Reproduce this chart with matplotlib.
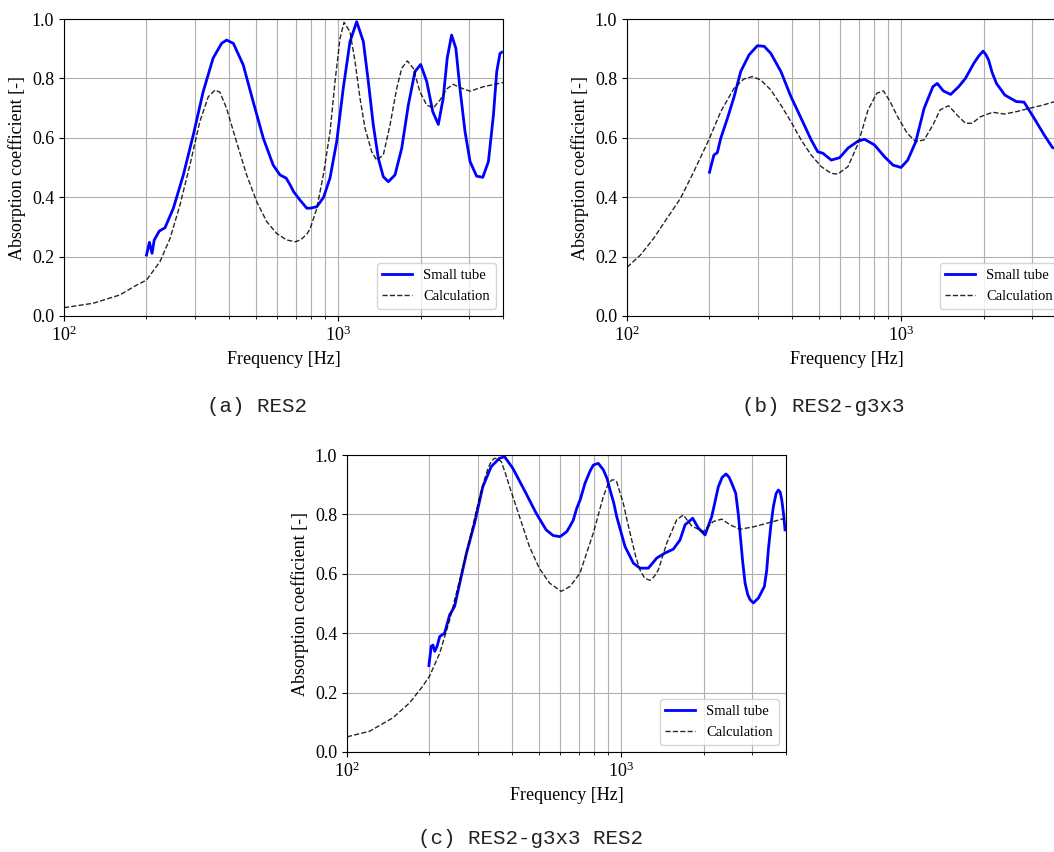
import matplotlib
matplotlib.use("Agg")
import matplotlib.pyplot as plt
from matplotlib.ticker import NullFormatter

plt.rcParams['font.family'] = ['Liberation Serif', 'DejaVu Serif']
plt.rcParams['mathtext.fontset'] = 'stix'

# (a) RES2
a_meas_f = [200, 205, 209.5, 213.5, 222.7, 233.6, 250.7, 272.6, 296.4, 322, 350, 376, 392, 415, 451, 490,
            534, 580, 614, 647, 670, 688, 727, 769, 792, 837, 886, 935, 989, 1045, 1106, 1170, 1237, 1290,
            1345, 1403, 1463, 1526, 1614, 1708, 1805, 1909, 2003, 2108, 2217, 2323, 2420, 2503, 2597, 2692,
            2785, 2907, 3033, 3204, 3375, 3539, 3691, 3795, 3900, 3957]
a_meas_v = [0.205, 0.248, 0.211, 0.256, 0.286, 0.297, 0.363, 0.475, 0.61, 0.755, 0.868, 0.918, 0.929, 0.918,
            0.845, 0.722, 0.598, 0.508, 0.475, 0.464, 0.44, 0.419, 0.39, 0.363, 0.363, 0.368, 0.40, 0.465,
            0.587, 0.767, 0.924, 0.991, 0.924, 0.789, 0.643, 0.531, 0.469, 0.452, 0.475, 0.565, 0.71, 0.823,
            0.847, 0.789, 0.688, 0.645, 0.733, 0.868, 0.946, 0.901, 0.767, 0.621, 0.52, 0.471, 0.467, 0.52,
            0.677, 0.823, 0.884, 0.888]
a_calc_f = [100, 127.9, 160, 184, 200, 224, 244, 265, 288, 313, 336, 356, 371, 392, 426, 464, 505, 549, 597,
            649, 698, 729, 769, 792, 837, 886, 935, 975, 1017, 1052, 1106, 1154, 1203, 1255, 1327, 1384, 1463,
            1548, 1638, 1708, 1791, 1883, 1990, 2108, 2229, 2356, 2488, 2631, 2824, 3033, 3389, 4000]
a_calc_v = [0.028, 0.043, 0.071, 0.104, 0.121, 0.183, 0.262, 0.374, 0.508, 0.654, 0.738, 0.761, 0.753, 0.699,
            0.587, 0.475, 0.385, 0.318, 0.278, 0.256, 0.25, 0.256, 0.275, 0.295, 0.363, 0.48, 0.62, 0.789,
            0.935, 0.989, 0.957, 0.856, 0.733, 0.632, 0.553, 0.525, 0.542, 0.643, 0.767, 0.834, 0.859, 0.834,
            0.755, 0.71, 0.701, 0.727, 0.764, 0.78, 0.767, 0.757, 0.772, 0.786]

# (b) RES2-g3x3
b_meas_f = [200, 207.5, 213.6, 219.8, 232.6, 245.9, 260, 278.8, 299, 316.7, 335, 364.5, 396.8, 431.8, 470,
            496.6, 518.6, 556.6, 597, 640, 697, 736, 800, 871, 935, 1000, 1058, 1132, 1214, 1307, 1356, 1426,
            1517, 1623, 1718, 1844, 1920, 1993, 2040, 2087, 2150, 2230, 2392, 2634, 2813, 3060, 3328, 3571,
            3800]
b_meas_v = [0.484, 0.542, 0.55, 0.598, 0.666, 0.738, 0.823, 0.879, 0.91, 0.908, 0.884, 0.823, 0.738, 0.666,
            0.593, 0.553, 0.548, 0.525, 0.533, 0.565, 0.589, 0.595, 0.576, 0.536, 0.508, 0.50, 0.525, 0.587,
            0.699, 0.772, 0.783, 0.758, 0.746, 0.772, 0.80, 0.851, 0.875, 0.892, 0.88, 0.862, 0.82, 0.783,
            0.744, 0.722, 0.72, 0.666, 0.61, 0.567, 0.56]
b_calc_f = [100, 111.9, 125.2, 140, 156.7, 175.3, 200, 219.8, 245.9, 267, 286.6, 307.5, 335, 364.5, 396.8,
            431.8, 470, 511.5, 556.6, 588.3, 640.3, 697, 758, 816, 863, 912, 978, 1054, 1132, 1214, 1307, 1389,
            1492, 1600, 1718, 1818, 1951, 2159, 2386, 2634, 2932, 3290, 3704, 4000]
b_calc_v = [0.164, 0.205, 0.262, 0.329, 0.396, 0.486, 0.598, 0.688, 0.767, 0.798, 0.806, 0.795, 0.761, 0.71,
            0.654, 0.593, 0.542, 0.503, 0.48, 0.478, 0.503, 0.58, 0.694, 0.75, 0.758, 0.722, 0.666, 0.615,
            0.587, 0.593, 0.643, 0.694, 0.708, 0.677, 0.649, 0.649, 0.671, 0.686, 0.68, 0.688, 0.699, 0.71,
            0.724, 0.732]

# (c) RES2-g3x3 RES2
c_meas_f = [199, 203, 206, 209, 213, 218, 227, 237, 247, 258, 273, 292, 313, 336, 360, 376, 403, 450, 490,
            533, 565, 599, 634, 651, 669, 689, 710, 739, 770, 792, 826, 862, 890, 912, 940, 964, 1000, 1034,
            1109, 1173, 1258, 1350, 1447, 1552, 1642, 1713, 1826, 1915, 2026, 2143, 2200, 2265, 2340, 2417,
            2480, 2535, 2622, 2680, 2719, 2780, 2836, 2900, 2957, 3041, 3170, 3334, 3400, 3449, 3520, 3597,
            3680, 3752, 3810, 3860, 3920, 3968]
c_meas_v = [0.291, 0.356, 0.36, 0.339, 0.355, 0.389, 0.40, 0.462, 0.49, 0.569, 0.67, 0.77, 0.893, 0.961,
            0.989, 0.994, 0.955, 0.871, 0.804, 0.748, 0.729, 0.725, 0.742, 0.76, 0.78, 0.82, 0.85, 0.905,
            0.945, 0.966, 0.972, 0.95, 0.92, 0.882, 0.84, 0.793, 0.74, 0.692, 0.636, 0.619, 0.619, 0.653,
            0.67, 0.683, 0.714, 0.765, 0.787, 0.754, 0.731, 0.793, 0.84, 0.893, 0.925, 0.936, 0.925, 0.905,
            0.871, 0.80, 0.737, 0.64, 0.569, 0.53, 0.513, 0.502, 0.518, 0.557, 0.61, 0.681, 0.76, 0.826,
            0.87, 0.882, 0.875, 0.849, 0.80, 0.748]
c_calc_f = [100, 121, 147, 169, 187, 200, 218, 237, 258, 281, 305, 317, 327, 336, 345, 355, 366, 378, 392,
            426, 463, 503, 548, 605, 651, 708, 792, 862, 895, 925, 945, 964, 990, 1019, 1055, 1094, 1130, 1173,
            1220, 1276, 1320, 1368, 1468, 1597, 1688, 1811, 1997, 2172, 2331, 2499, 2719, 3041, 3597, 3968]
c_calc_v = [0.051, 0.07, 0.115, 0.165, 0.216, 0.255, 0.333, 0.445, 0.58, 0.72, 0.86, 0.915, 0.955, 0.978,
            0.989, 0.987, 0.977, 0.94, 0.893, 0.793, 0.692, 0.619, 0.569, 0.541, 0.557, 0.602, 0.737, 0.86,
            0.90, 0.916, 0.916, 0.91, 0.875, 0.838, 0.775, 0.714, 0.66, 0.613, 0.585, 0.578, 0.59, 0.613,
            0.703, 0.782, 0.798, 0.761, 0.742, 0.776, 0.784, 0.765, 0.75, 0.758, 0.776, 0.787]

captions = ['(a) RES2', '(b) RES2-g3x3', '(c) RES2-g3x3 RES2']

W, H = 1054, 852
fig = plt.figure(figsize=(W / 100, H / 100), dpi=100)


def panel(left, top, mf, mv, cf, cv):
    ax = fig.add_axes([left / W, (H - top - 297) / H, 439 / W, 297 / H])
    ax.semilogx(mf, mv, color='blue', lw=2, label='Small tube')
    ax.semilogx(cf, cv, 'k--', lw=1, alpha=0.85, label='Calculation')
    ax.set_xlim(100, 4000)
    ax.set_ylim(0, 1.0)
    ax.grid(True, which='both', color='#b0b0b0', lw=0.8)
    ax.xaxis.set_minor_formatter(NullFormatter())
    ax.tick_params(labelsize=13)
    ax.set_xlabel('Frequency [Hz]', fontsize=13)
    ax.set_ylabel('Absorption coefficient [-]', fontsize=13)
    ax.legend(loc='lower right', fontsize=10.5)
    return ax


panel(64, 19, a_meas_f, a_meas_v, a_calc_f, a_calc_v)
panel(627, 19, b_meas_f, b_meas_v, b_calc_f, b_calc_v)
panel(347, 455, c_meas_f, c_meas_v, c_calc_f, c_calc_v)

cap_font = dict(fontsize=15, family='Liberation Mono', ha='center', va='center', color='#222222')
fig.text(257 / W, 1 - 406 / H, captions[0], **cap_font)
fig.text(823 / W, 1 - 406 / H, captions[1], **cap_font)
fig.text(530 / W, 1 - 838 / H, captions[2], **cap_font)

fig.savefig('out.png', dpi=100)
